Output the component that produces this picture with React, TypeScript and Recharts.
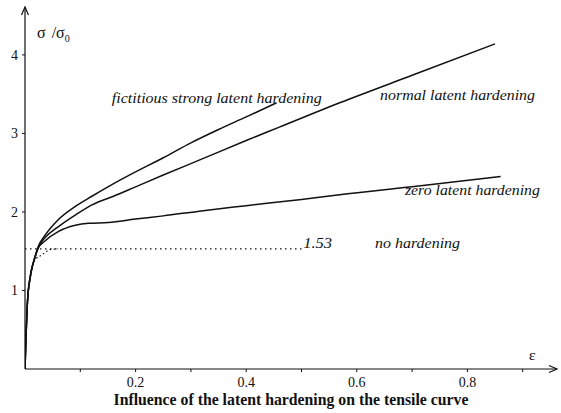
import React from 'react';
import { LineChart, Line, XAxis, YAxis, ReferenceDot } from 'recharts';

// strain (ε) / normalised stress (σ/σ0)
const strongStrain = [0, 0.002, 0.004, 0.006, 0.009, 0.012, 0.017, 0.024, 0.036, 0.06, 0.091, 0.121, 0.15, 0.181, 0.2, 0.25, 0.3, 0.35, 0.4, 0.455];
const strongStress = [0, 0.45, 0.8, 1.0, 1.15, 1.27, 1.4, 1.56, 1.7, 1.9, 2.07, 2.2, 2.32, 2.44, 2.51, 2.69, 2.88, 3.05, 3.21, 3.39];

const normalStrain = [0, 0.002, 0.004, 0.006, 0.009, 0.012, 0.017, 0.024, 0.036, 0.06, 0.091, 0.121, 0.16, 0.2, 0.25, 0.315, 0.4, 0.46, 0.569, 0.7, 0.85];
const normalStress = [0, 0.45, 0.8, 1.0, 1.15, 1.27, 1.4, 1.55, 1.67, 1.81, 1.96, 2.09, 2.2, 2.32, 2.47, 2.66, 2.91, 3.08, 3.39, 3.74, 4.14];

const zeroStrain = [0, 0.002, 0.004, 0.006, 0.009, 0.012, 0.017, 0.024, 0.036, 0.06, 0.091, 0.115, 0.151, 0.2, 0.25, 0.315, 0.4, 0.5, 0.569, 0.7, 0.86];
const zeroStress = [0, 0.45, 0.8, 1.0, 1.15, 1.27, 1.4, 1.54, 1.63, 1.75, 1.83, 1.855, 1.865, 1.91, 1.95, 2.01, 2.08, 2.16, 2.22, 2.32, 2.45];

// no hardening: dotted approach curve and the 1.53 plateau
const noHardStrain = [0.012, 0.018, 0.03, 0.045, 0.06];
const noHardStress = [1.27, 1.39, 1.45, 1.52, 1.53];
const plateauStrain = [0, 0.5];
const plateauStress = [1.53, 1.53];

const xTicks = [0.1, 0.2, 0.3, 0.4, 0.5, 0.6, 0.7, 0.8, 0.9];
const xLabelled = [0.2, 0.4, 0.6, 0.8];
const yTicks = [1, 2, 3, 4];

const X_MAX = 0.962;
const Y_MAX = 4.61;

const SERIF = 'Liberation Serif';
const INK = '#111';

const toPoints = (e: number[], s: number[]) => e.map((v, i) => ({ e: v, s: s[i] }));

const note =
  (text: string, width: number, opts: { italic?: boolean; size?: number } = {}) =>
  (p: any) => (
    <text
      x={p.cx}
      y={p.cy}
      style={{ fontFamily: SERIF, fontSize: opts.size ?? 15, fontStyle: opts.italic === false ? 'normal' : 'italic' }}
      fill={INK}
      textLength={width}
      lengthAdjust="spacingAndGlyphs"
    >
      {text}
    </text>
  );

const ArrowUp = (p: any) => (
  <path d={`M${p.cx - 3.5},${p.cy + 8} L${p.cx},${p.cy} L${p.cx + 3.5},${p.cy + 8}`} stroke={INK} strokeWidth={1.2} fill="none" />
);

const ArrowRight = (p: any) => (
  <path d={`M${p.cx - 8},${p.cy - 3.5} L${p.cx},${p.cy} L${p.cx - 8},${p.cy + 3.5}`} stroke={INK} strokeWidth={1.2} fill="none" />
);

const YLabel = (p: any) => (
  <text x={p.cx} y={p.cy} style={{ fontFamily: SERIF, fontSize: 16 }} fill={INK}>
    σ
    <tspan dx={6}>/σ</tspan>
    <tspan dy={4} style={{ fontSize: 10 }}>0</tspan>
  </text>
);

const TitleLabel = (p: any) => {
  const vb = p.viewBox || { x: 25, y: 369, width: 532, height: 44 };
  return (
    <text
      x={vb.x + vb.width / 2}
      y={vb.y + vb.height - 8}
      textAnchor="middle"
      style={{ fontFamily: SERIF, fontSize: 17, fontWeight: 'bold' }}
      fill={INK}
      textLength={355}
      lengthAdjust="spacingAndGlyphs"
    >
      Influence of the latent hardening on the tensile curve
    </text>
  );
};

export default function App() {
  return (
    <div style={{ position: 'absolute', left: 0, top: 0, width: 561, height: 413, background: '#fff' }}>
      <LineChart width={561} height={413} margin={{ top: 7, right: 4, bottom: 0, left: 0 }}>
        <XAxis
          dataKey="e"
          type="number"
          domain={[0, X_MAX]}
          allowDataOverflow
          ticks={xTicks}
          tickFormatter={(v: number) => (xLabelled.some((t) => Math.abs(t - v) < 1e-6) ? String(v) : '')}
          height={44}
          tickSize={3}
          tickMargin={5}
          axisLine={{ stroke: INK, strokeWidth: 1.2 }}
          tickLine={{ stroke: INK }}
          tick={{ fill: INK, fontSize: 14, fontFamily: SERIF }}
          label={<TitleLabel />}
        />
        <YAxis
          dataKey="s"
          type="number"
          domain={[0, Y_MAX]}
          allowDataOverflow
          ticks={yTicks}
          width={25}
          tickSize={3}
          tickMargin={4}
          axisLine={{ stroke: INK, strokeWidth: 1.2 }}
          tickLine={{ stroke: INK }}
          tick={{ fill: INK, fontSize: 14, fontFamily: SERIF }}
        />
        <Line data={toPoints(plateauStrain, plateauStress)} dataKey="s" type="linear" stroke={INK} strokeWidth={1.2} strokeDasharray="1.5 3.5" dot={false} isAnimationActive={false} />
        <Line data={toPoints(noHardStrain, noHardStress)} dataKey="s" type="monotone" stroke={INK} strokeWidth={1.2} strokeDasharray="1.5 2.5" dot={false} isAnimationActive={false} />
        <Line data={toPoints(zeroStrain, zeroStress)} dataKey="s" type="monotone" stroke={INK} strokeWidth={1.5} dot={false} isAnimationActive={false} />
        <Line data={toPoints(normalStrain, normalStress)} dataKey="s" type="monotone" stroke={INK} strokeWidth={1.5} dot={false} isAnimationActive={false} />
        <Line data={toPoints(strongStrain, strongStress)} dataKey="s" type="monotone" stroke={INK} strokeWidth={1.5} dot={false} isAnimationActive={false} />

        <ReferenceDot x={0} y={Y_MAX} ifOverflow="visible" shape={ArrowUp} />
        <ReferenceDot x={X_MAX} y={0} ifOverflow="visible" shape={ArrowRight} />

        <ReferenceDot x={0.0217} y={4.217} ifOverflow="visible" shape={YLabel} />
        <ReferenceDot x={0.911} y={0.115} ifOverflow="visible" shape={note('ε', 7, { italic: false, size: 15 })} />
        <ReferenceDot x={0.157} y={3.389} ifOverflow="visible" shape={note('fictitious strong latent hardening', 210)} />
        <ReferenceDot x={0.642} y={3.427} ifOverflow="visible" shape={note('normal latent hardening', 155)} />
        <ReferenceDot x={0.687} y={2.217} ifOverflow="visible" shape={note('zero latent hardening', 135)} />
        <ReferenceDot x={0.503} y={1.541} ifOverflow="visible" shape={note('1.53', 29)} />
        <ReferenceDot x={0.633} y={1.541} ifOverflow="visible" shape={note('no hardening', 85)} />
      </LineChart>
    </div>
  );
}
